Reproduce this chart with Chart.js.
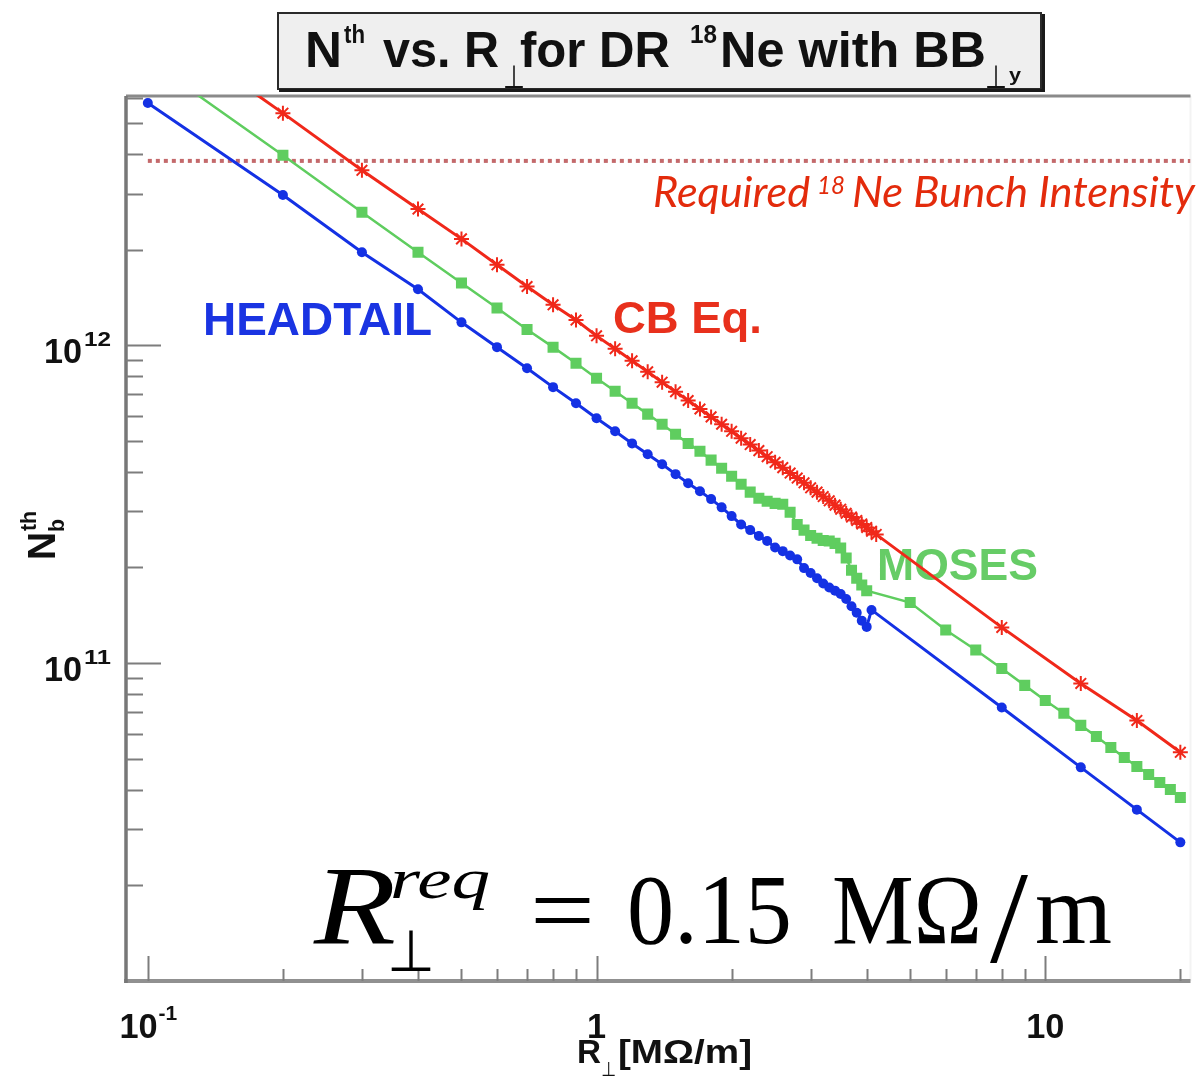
<!DOCTYPE html>
<html>
<head>
<meta charset="utf-8">
<script src="https://cdn.jsdelivr.net/npm/chart.js@4.4.1/dist/chart.umd.min.js"></script>
<style>
  html, body { margin: 0; padding: 0; background: #fff; }
  #wrap { width: 1200px; height: 1079px; }
</style>
</head>
<body>
<div id="wrap"><canvas id="nthChart" width="1200" height="1079"></canvas></div>
<script>
// R_perp values [MOhm/m] and threshold bunch intensities
const rHeadtail = [0.1, 0.2, 0.3, 0.4, 0.5, 0.6, 0.7, 0.8, 0.9,
  1.0, 1.1, 1.2, 1.3, 1.4, 1.5, 1.6, 1.7, 1.8, 1.9,
  2.0, 2.1, 2.2, 2.3, 2.4, 2.5, 2.6, 2.7, 2.8, 2.9,
  3.0, 3.1, 3.2, 3.3, 3.4, 3.5, 3.6, 3.7, 3.8, 3.9,
  4.0, 4.1, 8, 12, 16, 20];
const nHeadtail = [5.78e12, 2.97e12, 1.96e12, 1.50e12, 1.18e12, 9.86e11, 8.46e11, 7.38e11, 6.57e11,
  5.89e11, 5.36e11, 4.91e11, 4.54e11, 4.22e11, 3.93e11, 3.68e11, 3.47e11, 3.28e11, 3.09e11,
  2.90e11, 2.73e11, 2.62e11, 2.51e11, 2.42e11, 2.31e11, 2.25e11, 2.18e11, 2.12e11, 1.99e11,
  1.92e11, 1.85e11, 1.78e11, 1.73e11, 1.69e11, 1.65e11, 1.59e11, 1.51e11, 1.44e11, 1.36e11,
  1.30e11, 1.47e11, 7.25e10, 4.70e10, 3.46e10, 2.73e10];

const rMoses = [0.1, 0.2, 0.3, 0.4, 0.5, 0.6, 0.7, 0.8, 0.9,
  1.0, 1.1, 1.2, 1.3, 1.4, 1.5, 1.6, 1.7, 1.8, 1.9,
  2.0, 2.1, 2.2, 2.3, 2.4, 2.5, 2.6, 2.7, 2.8, 2.9,
  3.0, 3.1, 3.2, 3.3, 3.4, 3.5, 3.6, 3.7, 3.8, 3.9,
  4.0, 5, 6, 7, 8, 9, 10, 11, 12, 13, 14, 15, 16, 17, 18, 19, 20];
const nMoses = [7.9e12, 3.96e12, 2.62e12, 1.96e12, 1.57e12, 1.31e12, 1.12e12, 9.86e11, 8.78e11,
  7.87e11, 7.16e11, 6.57e11, 6.07e11, 5.64e11, 5.25e11, 4.91e11, 4.64e11, 4.35e11, 4.10e11,
  3.87e11, 3.65e11, 3.45e11, 3.30e11, 3.23e11, 3.18e11, 3.16e11, 2.98e11, 2.73e11, 2.62e11,
  2.52e11, 2.47e11, 2.43e11, 2.42e11, 2.38e11, 2.30e11, 2.14e11, 1.96e11, 1.85e11, 1.76e11,
  1.69e11, 1.55e11, 1.27e11, 1.10e11, 9.62e10, 8.51e10, 7.63e10, 6.95e10, 6.37e10, 5.88e10,
  5.43e10, 5.05e10, 4.73e10, 4.46e10, 4.21e10, 4.00e10, 3.78e10];

const rCbEq = [0.1, 0.2, 0.3, 0.4, 0.5, 0.6, 0.7, 0.8, 0.9,
  1.0, 1.1, 1.2, 1.3, 1.4, 1.5, 1.6, 1.7, 1.8, 1.9,
  2.0, 2.1, 2.2, 2.3, 2.4, 2.5, 2.6, 2.7, 2.8, 2.9,
  3.0, 3.1, 3.2, 3.3, 3.4, 3.5, 3.6, 3.7, 3.8, 3.9,
  4.0, 4.1, 4.2, 8, 12, 16, 20];
const nCbEq = [1.07e13, 5.37e12, 3.55e12, 2.68e12, 2.16e12, 1.79e12, 1.53e12, 1.34e12, 1.20e12,
  1.07e12, 9.75e11, 8.93e11, 8.25e11, 7.65e11, 7.14e11, 6.70e11, 6.30e11, 5.95e11, 5.64e11,
  5.36e11, 5.10e11, 4.87e11, 4.66e11, 4.46e11, 4.28e11, 4.12e11, 3.96e11, 3.82e11, 3.69e11,
  3.56e11, 3.45e11, 3.34e11, 3.24e11, 3.14e11, 3.05e11, 2.96e11, 2.88e11, 2.81e11, 2.74e11,
  2.67e11, 2.60e11, 2.54e11, 1.295e11, 8.63e10, 6.60e10, 5.24e10];

const requiredIntensity = 3.8e12;
const requiredFrom = 0.1;

const xRange = [0.0894, 21.07];
const yRange = [1e10, 6.08e12];

const xMajorTicks = [0.1, 1, 10];
const xMinorTicks = [0.2, 0.3, 0.4, 0.5, 0.6, 0.7, 0.8, 0.9, 2, 3, 4, 5, 6, 7, 8, 9, 20];
const yMajorTicks = [1e11, 1e12];
const yMinorTicks = [2e10, 3e10, 4e10, 5e10, 6e10, 7e10, 8e10, 9e10,
  2e11, 3e11, 4e11, 5e11, 6e11, 7e11, 8e11, 9e11, 2e12, 3e12, 4e12, 5e12, 6e12];
const xTickLabels = [['10', '-1'], ['1', ''], ['10', '']];
const yTickLabels = [['10', '11'], ['10', '12']];

const colBlue = '#1431e4';
const colGreen = '#5fcd5f';
const colRed = '#f0281a';
const SANS = '"Liberation Sans", Arial, sans-serif';
const SERIF = '"Liberation Serif", "Times New Roman", serif';

function pts(xs, ys) {
  return xs.map((x, i) => ({ x: x, y: ys[i] }));
}

// draw a string, optionally squeezed/stretched to a given width
function txt(ctx, s, x, y, font, color, w) {
  ctx.font = font;
  ctx.fillStyle = color;
  ctx.textAlign = 'left';
  ctx.textBaseline = 'alphabetic';
  if (w) {
    const m = ctx.measureText(s).width;
    ctx.save();
    ctx.translate(x, y);
    ctx.scale(w / m, 1);
    ctx.fillText(s, 0, 0);
    ctx.restore();
  } else {
    ctx.fillText(s, x, y);
  }
}

const framePlugin = {
  id: 'rootFrame',
  beforeDatasetsDraw(chart) {
    const { ctx, chartArea: a, scales: { x, y } } = chart;
    ctx.save();
    // frame
    ctx.lineCap = 'butt';
    ctx.strokeStyle = '#f3f3f3'; ctx.lineWidth = 2;
    ctx.beginPath(); ctx.moveTo(a.right, a.top); ctx.lineTo(a.right, a.bottom); ctx.stroke();
    ctx.strokeStyle = '#8a8a8a'; ctx.lineWidth = 3;
    ctx.beginPath(); ctx.moveTo(a.left, a.top); ctx.lineTo(a.right, a.top); ctx.stroke();
    ctx.strokeStyle = '#909090'; ctx.lineWidth = 4;
    ctx.beginPath(); ctx.moveTo(a.left - 2, a.bottom); ctx.lineTo(a.right, a.bottom); ctx.stroke();
    ctx.strokeStyle = '#777777'; ctx.lineWidth = 3.5;
    ctx.beginPath(); ctx.moveTo(a.left, a.top); ctx.lineTo(a.left, a.bottom + 2); ctx.stroke();

    // inward ticks
    ctx.strokeStyle = '#7d7d7d'; ctx.lineWidth = 2;
    const tickX = (v, len) => {
      const px = Math.round(x.getPixelForValue(v)) + 0.5;
      ctx.beginPath(); ctx.moveTo(px, a.bottom); ctx.lineTo(px, a.bottom - len); ctx.stroke();
    };
    const tickY = (v, len) => {
      const py = Math.round(y.getPixelForValue(v)) + 0.5;
      ctx.beginPath(); ctx.moveTo(a.left, py); ctx.lineTo(a.left + len, py); ctx.stroke();
    };
    xMajorTicks.forEach(v => tickX(v, 25));
    xMinorTicks.forEach(v => tickX(v, 12));
    yMajorTicks.forEach(v => tickY(v, 35));
    yMinorTicks.forEach(v => tickY(v, 17));

    // annotations inside the pad
    txt(ctx, 'HEADTAIL', 203, 335, 'bold 46px ' + SANS, '#1a34e2', 229);
    txt(ctx, 'CB Eq.', 613, 333, 'bold 45px ' + SANS, '#e8301c', 149);
    txt(ctx, 'MOSES', 877, 580, 'bold 45px ' + SANS, '#66cc66', 161);

    const redTxt = '#e32b0c';
    txt(ctx, 'Required', 653, 207, 'italic 42px Lato, "Open Sans", sans-serif', redTxt, 157);
    txt(ctx, '18', 817, 194, 'italic 26px Lato, "Open Sans", sans-serif', redTxt, 28);
    txt(ctx, 'Ne Bunch Intensity', 852, 207, 'italic 42px Lato, "Open Sans", sans-serif', redTxt, 343);

    const k = '#000';
    txt(ctx, 'R', 314, 943, 'italic 112px ' + SERIF, k, 82);
    txt(ctx, 'req', 390, 898, 'italic 56px ' + SERIF, k, 100);
    txt(ctx, '\u22A5', 387, 971, '58px "DejaVu Sans"', k, 48);
    txt(ctx, '=', 530, 944, '100px ' + SERIF, k, 65);
    txt(ctx, '0.15', 627, 943, '100px ' + SERIF, k, 165);
    txt(ctx, 'M\u03A9', 832, 943, '100px ' + SERIF, k, 150);
    txt(ctx, '/', 990, 962, '132px ' + SERIF, k, 38);
    txt(ctx, 'm', 1035, 943, '100px ' + SERIF, k, 77);
    ctx.restore();
  },
  afterDraw(chart) {
    const { ctx, chartArea: a, scales: { x, y } } = chart;
    ctx.save();
    const k = '#111';

    // tick labels
    xMajorTicks.forEach((v, i) => {
      const px = x.getPixelForValue(v);
      const [base, sup] = xTickLabels[i];
      ctx.font = 'bold 35px ' + SANS;
      const bw = ctx.measureText(base).width * 0.98;
      ctx.font = 'bold 21px ' + SANS;
      const sw = sup ? ctx.measureText(sup).width : 0;
      const left = px - (bw + sw) / 2;
      txt(ctx, base, left, a.bottom + 57, 'bold 35px ' + SANS, k, bw);
      if (sup) txt(ctx, sup, left + bw + 1, a.bottom + 39, 'bold 21px ' + SANS, k, sw);
    });
    yMajorTicks.forEach((v, i) => {
      const py = y.getPixelForValue(v);
      const [base, sup] = yTickLabels[i];
      txt(ctx, base, 44, py + 18, 'bold 35px ' + SANS, k, 38);
      txt(ctx, sup, 84, py + 1, 'bold 21px ' + SANS, k, 27);
    });

    // x axis title
    txt(ctx, 'R', 577, 1063, 'bold 34px ' + SANS, k, 24);
    txt(ctx, '\u22A5', 601, 1076, '20px "DejaVu Sans"', k, 15);
    txt(ctx, '[M\u03A9/m]', 618, 1063, 'bold 33px ' + SANS, k, 134);

    // y axis title (rotated)
    ctx.save();
    ctx.translate(55, 560);
    ctx.rotate(-Math.PI / 2);
    txt(ctx, 'N', 0, 0, 'bold 38px ' + SANS, k, 28);
    txt(ctx, 'th', 29, -19, 'bold 22px ' + SANS, k, 20);
    txt(ctx, 'b', 28, 9, 'bold 22px ' + SANS, k, 13);
    ctx.restore();

    // title box
    ctx.fillStyle = '#efefef';
    ctx.fillRect(277, 12, 765, 78);
    ctx.strokeStyle = '#2a2a2a'; ctx.lineWidth = 2;
    ctx.strokeRect(278, 13, 763, 76);
    ctx.strokeStyle = '#1a1a1a'; ctx.lineWidth = 3;
    ctx.beginPath(); ctx.moveTo(279, 90.5); ctx.lineTo(1043.5, 90.5); ctx.lineTo(1043.5, 14); ctx.stroke();

    const tf = 'bold 50px ' + SANS;
    txt(ctx, 'N', 305, 67, tf, k, 37);
    txt(ctx, 'th', 344, 43, 'bold 26px ' + SANS, k, 21);
    txt(ctx, 'vs. R', 383, 67, tf, k, 116);
    txt(ctx, '\u22A5', 503, 88, '32px "DejaVu Sans"', k, 22);
    txt(ctx, 'for DR', 520, 67, tf, k, 150);
    txt(ctx, '18', 690, 43, 'bold 26px ' + SANS, k, 27);
    txt(ctx, 'Ne with BB', 720, 67, tf, k, 266);
    txt(ctx, '\u22A5', 985, 88, '32px "DejaVu Sans"', k, 22);
    txt(ctx, 'y', 1009, 81, 'bold 18px ' + SANS, k, 12);
    ctx.restore();
  }
};

const ctx = document.getElementById('nthChart').getContext('2d');

new Chart(ctx, {
  type: 'line',
  data: {
    datasets: [{
      label: 'CB Eq.',
      data: pts(rCbEq, nCbEq),
      borderColor: colRed,
      borderWidth: 3,
      pointStyle: 'star',
      pointRadius: 7.5,
      pointBorderWidth: 2,
      pointBorderColor: colRed,
      pointBackgroundColor: colRed
    }, {
      label: 'MOSES',
      data: pts(rMoses, nMoses),
      borderColor: colGreen,
      borderWidth: 2.5,
      pointStyle: 'rect',
      pointRadius: 7.8,
      pointBorderWidth: 0,
      pointBackgroundColor: colGreen
    }, {
      label: 'HEADTAIL',
      data: pts(rHeadtail, nHeadtail),
      borderColor: colBlue,
      borderWidth: 3,
      pointStyle: 'circle',
      pointRadius: 5,
      pointBorderWidth: 0,
      pointBackgroundColor: colBlue
    }, {
      label: 'Required 18Ne Bunch Intensity',
      data: [{ x: requiredFrom, y: requiredIntensity }, { x: xRange[1], y: requiredIntensity }],
      borderColor: '#c4696b',
      borderWidth: 4,
      borderDash: [4, 4],
      pointRadius: 0
    }]
  },
  options: {
    responsive: false,
    animation: false,
    layout: {
      padding: { left: 126, top: 96, right: 4, bottom: 98 }
    },
    elements: { line: { tension: 0 } },
    scales: {
      x: { type: 'logarithmic', min: xRange[0], max: xRange[1], display: false },
      y: { type: 'logarithmic', min: yRange[0], max: yRange[1], display: false }
    },
    plugins: {
      legend: { display: false },
      tooltip: { enabled: false }
    }
  },
  plugins: [framePlugin]
});
</script>
</body>
</html>
